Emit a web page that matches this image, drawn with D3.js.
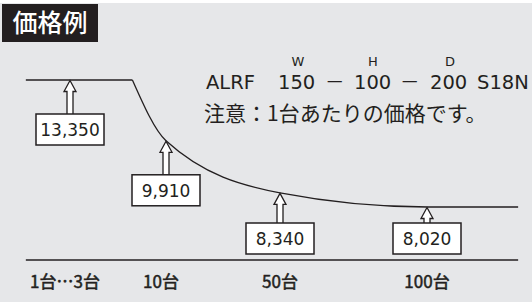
<!DOCTYPE html>
<html>
<head>
<meta charset="utf-8">
<script src="https://cdn.jsdelivr.net/npm/d3@7"></script>
<style>
  html, body { margin: 0; padding: 0; background: #fff; }
  svg { display: block; font-family: "DejaVu Sans", "Noto Sans CJK JP", sans-serif; }
</style>
</head>
<body>
<div id="wrapper"></div>
<script>
// data
const categories = ["1台…3台", "10台", "50台", "100台"]
const prices = [13350, 9910, 8340, 8020]
const title = "価格例"
const modelParts = ["ALRF", "150", "－", "100", "－", "200", "S18N"]
const dimLetters = ["W", "H", "D"]
const note = "注意：1台あたりの価格です。"

function drawPriceChart() {
    const width = 532
    const height = 302

    const svg = d3.select("#wrapper")
        .append("svg")
        .attr("width", width)
        .attr("height", height)

    svg.append("rect")
        .attr("x", 0).attr("y", 3)
        .attr("width", width).attr("height", height - 3)
        .attr("fill", "#e6e7e9")

    // title
    svg.append("rect")
        .attr("x", 2).attr("y", 4)
        .attr("width", 96).attr("height", 38)
        .attr("fill", "#231f20")
    svg.append("text")
        .attr("x", 50).attr("y", 32)
        .attr("text-anchor", "middle")
        .attr("fill", "#fff")
        .style("font-family", "'Noto Sans CJK JP'")
        .style("font-size", "25px")
        .style("font-weight", 500)
        .text(title)

    // scales: category index -> x, price -> y
    const xScale = d3.scaleLinear()
        .domain([0, 1, 2, 3])
        .range([70, 166, 280, 427])

    const yScale = d3.scalePow()
        .exponent(-1.7)
        .domain([prices[3], prices[0]])
        .range([207, 80])

    const axisStart = -0.46
    const axisEnd = 3.62
    const breakIndex = 0.65
    const baseY = 260

    // flat part (1..3 units)
    const line = d3.line()
        .x(d => xScale(d.i))
        .y(d => yScale(d.v))

    svg.append("path")
        .attr("d", line([{ i: axisStart, v: prices[0] }, { i: breakIndex, v: prices[0] }]))
        .attr("fill", "none")
        .attr("stroke", "#231f20")
        .attr("stroke-width", 1.3)

    // decaying part
    const curvePoints = [{ i: breakIndex, v: prices[0] }]
        .concat(prices.slice(1).map((v, k) => ({ i: k + 1, v: v })))
        .concat([{ i: axisEnd, v: prices[3] }])

    svg.append("path")
        .attr("d", line.curve(d3.curveMonotoneX)(curvePoints))
        .attr("fill", "none")
        .attr("stroke", "#231f20")
        .attr("stroke-width", 1.3)

    // baseline
    svg.append("line")
        .attr("x1", xScale(axisStart)).attr("x2", xScale(axisEnd))
        .attr("y1", baseY).attr("y2", baseY)
        .attr("stroke", "#231f20")
        .attr("stroke-width", 1.5)

    // category labels (semi-bold look)
    svg.selectAll(".cat")
        .data(categories)
        .join("text")
        .attr("class", "cat")
        .attr("x", (d, i) => xScale(i) - (i < 2 ? 5 : 0))
        .attr("y", 288)
        .attr("text-anchor", "middle")
        .attr("fill", "#231f20")
        .attr("stroke", "#231f20")
        .attr("stroke-width", 0.5)
        .style("font-family", "'Noto Sans CJK JP'")
        .style("font-size", "17px")
        .text(d => d)

    // callouts
    const fmt = d3.format(",")
    const boxW = 68
    const boxH = 31
    const callouts = svg.selectAll(".callout")
        .data(prices)
        .join("g")
        .attr("class", "callout")

    const boxTop = v => Math.min(yScale(v) + 34, 223)

    callouts.append("path")
        .attr("d", (v, i) => {
            const x = xScale(i)
            const ty = yScale(v) + 0.5
            const hy = ty + 11
            const by = boxTop(v) + 1
            return `M${x},${ty}L${x + 6},${hy}L${x + 3},${hy}L${x + 3},${by}L${x - 3},${by}L${x - 3},${hy}L${x - 6},${hy}Z`
        })
        .attr("fill", "#fff")
        .attr("stroke", "#231f20")
        .attr("stroke-width", 1.3)
        .attr("stroke-linejoin", "miter")

    callouts.append("rect")
        .attr("x", (v, i) => xScale(i) - boxW / 2)
        .attr("y", v => boxTop(v))
        .attr("width", boxW)
        .attr("height", boxH)
        .attr("fill", "#fff")
        .attr("stroke", "#231f20")
        .attr("stroke-width", 1.5)

    callouts.append("text")
        .attr("x", (v, i) => xScale(i))
        .attr("y", v => boxTop(v) + 22)
        .attr("text-anchor", "middle")
        .attr("fill", "#231f20")
        .style("font-size", "17px")
        .text(v => fmt(v))

    // model text
    const partX = [206, 278, 325, 354, 400, 430, 477]
    svg.selectAll(".model")
        .data(modelParts)
        .join("text")
        .attr("class", "model")
        .attr("x", (d, i) => partX[i])
        .attr("y", 89)
        .attr("fill", "#231f20")
        .style("font-size", "19.5px")
        .text(d => d)

    const letterX = [298, 373, 450]
    svg.selectAll(".dim")
        .data(dimLetters)
        .join("text")
        .attr("class", "dim")
        .attr("x", (d, i) => letterX[i])
        .attr("y", 66)
        .attr("text-anchor", "middle")
        .attr("fill", "#231f20")
        .style("font-size", "13px")
        .text(d => d)

    svg.append("text")
        .attr("x", 204)
        .attr("y", 121)
        .attr("fill", "#231f20")
        .style("font-family", "'Noto Sans CJK JP'")
        .style("font-size", "21px")
        .text(note)
}

drawPriceChart()
</script>
</body>
</html>
